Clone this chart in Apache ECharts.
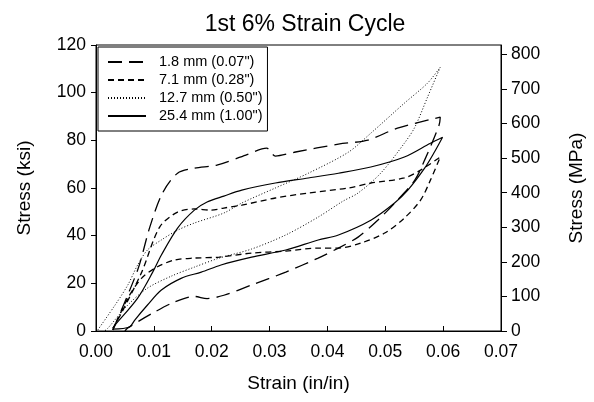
<!DOCTYPE html>
<html>
<head>
<meta charset="utf-8">
<script src="https://cdn.jsdelivr.net/npm/echarts@6/dist/echarts.min.js"></script>
<style>
  html, body { margin: 0; padding: 0; background: #fff; }
  #chart { width: 594px; height: 402px; }
</style>
</head>
<body>
<div id="chart"></div>
<script>
// hysteresis loops, [strain (in/in), stress (ksi)], loading then unloading
var names = ['1.8 mm (0.07")', '7.1 mm (0.28")', '12.7 mm (0.50")', '25.4 mm (1.00")'];

var loop18 = [
  [0.0029,0.4],[0.0072,25.6],[0.0093,43.6],[0.0115,57.9],[0.0141,66.2],[0.0170,68.3],
  [0.0209,69.6],[0.0259,73.8],[0.0295,76.7],[0.0310,73.4],[0.0345,75.1],[0.0419,78.4],
  [0.0470,80.1],[0.0521,85.1],[0.0595,89.7],
  [0.0593,86.4],[0.0568,71.7],[0.0551,63.3],[0.0518,54.1],[0.0487,46.5],[0.0453,39.4],
  [0.0419,34.8],[0.0384,30.6],[0.0328,24.7],[0.0269,19.3],[0.0221,15.0],[0.0192,13.6],
  [0.0170,14.5],[0.0136,12.2],[0.0098,7.5],[0.0055,1.3],[0.0050,0]
];
var loop71 = [
  [0.0029,1.0],[0.0045,8.0],[0.0079,24.7],[0.0110,43.6],[0.0141,49.9],[0.0170,51.2],
  [0.0199,50.7],[0.0221,51.6],[0.0252,52.8],[0.0310,55.8],[0.0367,57.9],[0.0436,60.0],
  [0.0475,62.1],[0.0533,64.2],[0.0561,67.5],[0.0595,73.0],
  [0.0578,63.3],[0.0561,54.9],[0.0533,47.4],[0.0499,41.1],[0.0458,36.9],[0.0419,34.8],
  [0.0384,34.8],[0.0328,33.5],[0.0269,32.7],[0.0213,31.0],[0.0170,30.6],[0.0136,29.8],
  [0.0105,26.8],[0.0079,22.2],[0.0055,13.8],[0.0033,2.5],[0.0029,0.4]
];
var loop127 = [
  [0.0003,0.4],[0.0033,10.9],[0.0055,19.3],[0.0072,27.7],[0.0089,34.0],[0.0113,38.2],
  [0.0141,42.3],[0.0170,45.3],[0.0221,49.5],[0.0252,53.7],[0.0310,60.0],[0.0367,66.2],
  [0.0436,75.0],[0.0475,83.0],[0.0533,95.6],[0.0573,104.0],[0.0595,110.7],
  [0.0573,98.1],[0.0551,85.5],[0.0533,78.8],[0.0492,66.2],[0.0453,57.9],[0.0427,54.5],
  [0.0384,47.8],[0.0328,40.3],[0.0269,34.4],[0.0213,30.6],[0.0170,26.8],[0.0130,23.0],
  [0.0089,18.0],[0.0055,10.9],[0.0021,1.3],[0.0015,0]
];
var loop254 = [
  [0.0029,1.3],[0.0033,2.5],[0.0072,13.8],[0.0098,24.7],[0.0113,31.9],[0.0141,43.2],
  [0.0170,50.7],[0.0192,54.1],[0.0221,56.6],[0.0252,59.1],[0.0310,62.1],[0.0367,64.2],
  [0.0419,66.2],[0.0475,68.8],[0.0533,73.0],[0.0578,78.8],[0.0599,81.3],
  [0.0585,75.1],[0.0568,68.3],[0.0539,59.1],[0.0516,53.7],[0.0475,46.5],[0.0419,40.3],
  [0.0384,38.2],[0.0328,34.0],[0.0269,31.0],[0.0216,27.7],[0.0182,24.7],[0.0148,22.2],
  [0.0113,17.2],[0.0089,10.9],[0.0067,4.6],[0.0058,1.7],[0.0029,0.8]
];

var loops = [loop18, loop71, loop127, loop254];
var dashes = [[14, 7], [6, 4], [1, 2], 'solid'];
var widths = [1.3, 1.3, 1, 1.2];

var KSI_TO_MPA = 6.894757;
var font = 'Liberation Sans, Arial, sans-serif';

var seriesData = [];
for (var i = 0; i < loops.length; i++) {
  seriesData.push({
    name: names[i],
    type: 'line',
    data: loops[i],
    showSymbol: false,
    symbol: 'none',
    smooth: 0.3,
    animation: false,
    itemStyle: { color: '#000' },
    lineStyle: { color: '#000', width: widths[i], type: dashes[i] }
  });
}

var option = {
  backgroundColor: '#fff',
  title: {
    text: '1st 6% Strain Cycle',
    left: 300, textAlign: 'center', top: 8,
    textStyle: { fontFamily: font, fontSize: 23, fontWeight: 'normal', color: '#000' }
  },
  legend: {
    orient: 'vertical',
    left: 98, top: 47,
    data: names,
    itemWidth: 38, itemHeight: 12, itemGap: 2,
    padding: [7, 5, 7, 9],
    borderColor: '#000', borderWidth: 1,
    itemStyle: { opacity: 0 },
    textStyle: { fontFamily: font, fontSize: 14.5, lineHeight: 16, color: '#000', padding: [0, 0, 0, 8] }
  },
  grid: {
    left: 96, right: 90, top: 45, bottom: 71,
    show: true, borderColor: '#000', borderWidth: 1
  },
  xAxis: {
    type: 'value', min: 0, max: 0.07, interval: 0.01,
    name: 'Strain (in/in)', nameLocation: 'middle', nameGap: 43,
    nameTextStyle: { fontFamily: font, fontSize: 19, color: '#000' },
    axisLine: { show: true, lineStyle: { color: '#000' } },
    axisTick: { show: true, inside: true, length: 5, lineStyle: { color: '#000' } },
    axisLabel: { fontFamily: font, fontSize: 17.5, color: '#000', margin: 12,
      formatter: function (v) { return v.toFixed(2); } },
    splitLine: { show: false }
  },
  yAxis: [{
    type: 'value', min: 0, max: 120, interval: 20,
    name: 'Stress (ksi)', nameLocation: 'middle', nameGap: 62, nameRotate: 90,
    nameTextStyle: { fontFamily: font, fontSize: 19, color: '#000' },
    axisLine: { show: true, lineStyle: { color: '#000' } },
    axisTick: { show: true, length: 5, lineStyle: { color: '#000' } },
    axisLabel: { fontFamily: font, fontSize: 17.5, color: '#000', margin: 10 },
    splitLine: { show: false }
  }, {
    type: 'value', min: 0, max: 120 * KSI_TO_MPA, interval: 100,
    position: 'right', alignTicks: false,
    name: 'Stress (MPa)', nameLocation: 'middle', nameGap: 66, nameRotate: 90,
    nameTextStyle: { fontFamily: font, fontSize: 19, color: '#000' },
    axisLine: { show: true, lineStyle: { color: '#000' } },
    axisTick: { show: true, length: 6, lineStyle: { color: '#000' } },
    axisLabel: { fontFamily: font, fontSize: 17.5, color: '#000', margin: 10, showMaxLabel: false,
      formatter: function (v) { return v % 100 === 0 ? v : ''; } },
    splitLine: { show: false }
  }],
  series: seriesData
};

echarts.init(document.getElementById('chart')).setOption(option);
</script>
</body>
</html>
